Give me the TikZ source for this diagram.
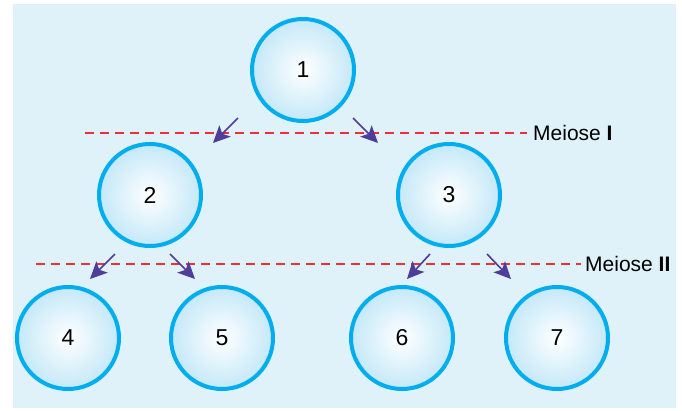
\documentclass[tikz,border=0pt]{standalone}
\usepackage{fontspec}
\setmainfont{Liberation Sans}
\usetikzlibrary{arrows.meta}
\definecolor{bgblue}{HTML}{DFF2FA}
\definecolor{cellrim}{HTML}{00AEEF}
\definecolor{cellin}{HTML}{C4E8F8}
\definecolor{splitred}{HTML}{EE2F3B}
\definecolor{splitviolet}{HTML}{4E3D99}
\begin{document}
\begin{tikzpicture}[x=1pt, y=-1pt,
    cell/.style={circle, draw=cellrim, line width=4pt, minimum size=102pt,
        inner color=white, outer color=cellin, font=\fontsize{23}{23}\selectfont},
    cut/.style={splitred, line width=1.5pt, dash pattern=on 9pt off 6pt},
    split/.style={splitviolet, line width=1.6pt,
        -{Stealth[length=17pt, width=16pt, inset=4pt]}},
    stage/.style={anchor=west, inner sep=0pt, font=\fontsize{21}{21}\selectfont}]
    % Frame
    \useasboundingbox (0,0) rectangle (682,410);
    \fill[bgblue] (13,4) rectangle (676,408);

    % Cells
    \node[cell] (c1) at (303,70) {1};
    \node[cell] (c2) at (150,195) {2};
    \node[cell] (c3) at (449,195) {3};
    \node[cell] (c4) at (68,338) {4};
    \node[cell] (c5) at (222,338) {5};
    \node[cell] (c6) at (402,338) {6};
    \node[cell] (c7) at (557,338) {7};

    % Division lines
    \node[stage] (m1) at (533,133) {Meiose \textbf{I}};
    \node[stage] (m2) at (585,264) {Meiose \textbf{II}};
    \coordinate (d1) at (85,133);
    \coordinate (d2) at (36,264);
    \draw[cut] (d1) -- ([xshift=-6pt]m1.west);
    \draw[cut] (d2) -- ([xshift=-4pt]m2.west);

    % Arrows
    \draw[split] ([shift={(-65,48)}]c1.center) -- ([shift={(63,-52)}]c2.center);
    \draw[split] ([shift={(50,48)}]c1.center) -- ([shift={(-71,-52)}]c3.center);
    \draw[split] ([shift={(-35,59)}]c2.center) -- ([shift={(22,-59)}]c4.center);
    \draw[split] ([shift={(20,59)}]c2.center) -- ([shift={(-27,-59)}]c5.center);
    \draw[split] ([shift={(-19,59)}]c3.center) -- ([shift={(5,-59)}]c6.center);
    \draw[split] ([shift={(38,59)}]c3.center) -- ([shift={(-46,-59)}]c7.center);
\end{tikzpicture}
\end{document}
